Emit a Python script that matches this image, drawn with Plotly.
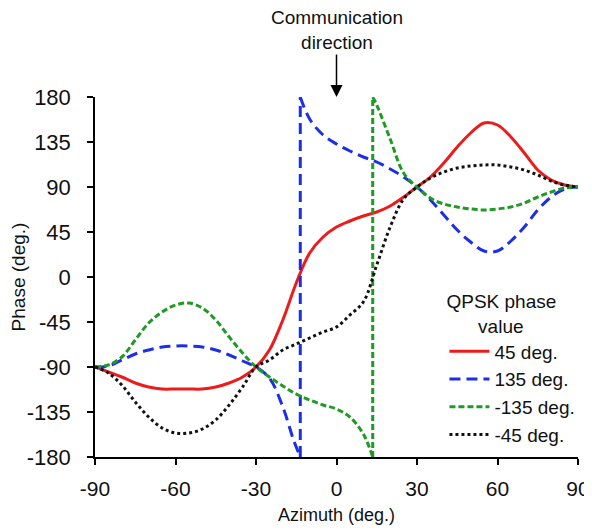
import plotly.graph_objects as go

# ---- data (azimuth in deg., phase in deg.) ----
az_45 = [-90, -85, -80, -75, -70, -65, -60, -55, -50, -45, -40, -35, -30, -25, -20, -15, -10, -5, 0, 5, 10, 15, 20, 25, 30,
         35, 40, 45, 50, 55, 60, 65, 70, 75, 80, 85, 90]
ph_45 = [-90, -95, -100, -106, -110, -112, -112, -112, -112, -110, -106, -100, -90, -73, -43, -6, 24, 40, 50, 56, 61, 65, 71, 80, 90,
         100, 114, 130, 144, 154, 152, 140, 124, 107, 97, 92, 90]

az_135 = [-90, -85, -80, -75, -70, -65, -60, -55, -50, -45, -40, -35, -30, -25, -20, -16, -13.5, -13.5, -10, -5, 0, 5, 10, 15, 20, 25, 30,
          35, 40, 45, 50, 55, 60, 65, 70, 75, 80, 85, 90]
ph_135 = [-90, -89, -83, -77, -73, -70, -69, -69, -70, -73, -78, -84, -90, -101, -130, -163, -180, 180, 158, 142, 133, 126, 120, 115, 108, 100, 90,
          77, 62, 47, 35, 26, 26, 36, 50, 67, 80, 88, 90]

az_m135 = [-90, -85, -80, -75, -70, -65, -60, -55, -50, -45, -40, -35, -30, -25, -20, -15, -10, -5, 0, 5, 10, 13.5, 13.5, 15, 20, 25, 30,
           35, 40, 45, 50, 55, 60, 65, 70, 75, 80, 85, 90]
ph_m135 = [-90, -88, -80, -63, -46, -35, -28, -26, -31, -43, -60, -76, -90, -100, -109, -117, -123, -128, -132, -140, -157, -180, 180, 172, 138, 104, 90,
           79, 73, 70, 68, 67, 68, 70, 74, 80, 85, 89, 90]

az_m45 = [-90, -85, -80, -75, -70, -65, -60, -55, -50, -45, -40, -35, -30, -25, -20, -15, -10, -5, 0, 5, 10, 15, 20, 25, 30,
          35, 40, 45, 50, 55, 60, 65, 70, 75, 80, 85, 90]
ph_m45 = [-90, -96, -108, -125, -140, -151, -156, -156, -152, -143, -128, -110, -90, -83, -73, -67, -61, -55, -50, -38, -25, 12, 50, 78, 90,
          99, 105, 109, 111, 112, 112, 110, 107, 102, 96, 92, 90]

series_names = ["45 deg.", "135 deg.", "-135 deg.", "-45 deg."]
x_ticks = [-90, -60, -30, 0, 30, 60, 90]
y_ticks = [-180, -135, -90, -45, 0, 45, 90, 135, 180]

FONT = "Liberation Sans, Arial, sans-serif"

styles = [
    dict(color="#ec1c1c", width=3),
    dict(color="#1c2ee8", width=3, dash="11px,6px"),
    dict(color="#1f9a24", width=3, dash="6px,3px"),
    dict(color="#111111", width=3, dash="dot"),
]
data = [(az_45, ph_45), (az_135, ph_135), (az_m135, ph_m135), (az_m45, ph_m45)]

fig = go.Figure()
for name, style, (xs, ys) in zip(series_names, styles, data):
    # split at the phase wrap (two consecutive points with the same azimuth)
    cut = None
    for i in range(len(xs) - 1):
        if xs[i] == xs[i + 1]:
            cut = i
    if cut is None:
        fig.add_trace(go.Scatter(x=xs, y=ys, mode="lines", name=name, legendgroup=name,
                                 line=dict(shape="spline", smoothing=1.0, **style)))
    else:
        fig.add_trace(go.Scatter(x=xs[:cut + 1], y=ys[:cut + 1], mode="lines", name=name, legendgroup=name,
                                 line=dict(shape="spline", smoothing=1.0, **style)))
        fig.add_trace(go.Scatter(x=xs[cut:cut + 2], y=ys[cut:cut + 2], mode="lines", name=name, legendgroup=name,
                                 showlegend=False, line=dict(shape="linear", **style)))
        fig.add_trace(go.Scatter(x=xs[cut + 1:], y=ys[cut + 1:], mode="lines", name=name, legendgroup=name,
                                 showlegend=False, line=dict(shape="spline", smoothing=1.0, **style)))

fig.update_layout(
    width=584, height=522,
    margin=dict(l=87, r=13, t=89, b=73),
    paper_bgcolor="white", plot_bgcolor="white",
    font=dict(family=FONT, size=19, color="#111111"),
    showlegend=True,
    legend=dict(
        x=0.722, y=0.483, xanchor="left", yanchor="top",
        bgcolor="rgba(0,0,0,0)",
        font=dict(size=19, family=FONT),
        title=dict(text="QPSK phase<br>" + "&nbsp;" * 6 + "value", side="top", font=dict(size=19, family=FONT)),
        itemwidth=40, tracegroupgap=0,
    ),
    xaxis=dict(
        range=[-90, 90], tickvals=x_ticks, ticktext=[str(v) for v in x_ticks],
        showgrid=False, zeroline=False, showline=True, linecolor="black", linewidth=1.5,
        ticks="outside", ticklen=6, tickwidth=1.5, tickcolor="black",
        tickfont=dict(size=21, family=FONT), automargin=False, ticklabelstandoff=6,
        title=dict(text="Azimuth (deg.)", font=dict(size=18, family=FONT), standoff=9),
    ),
    yaxis=dict(
        range=[-180, 180], tickvals=y_ticks, ticktext=[str(v) for v in y_ticks],
        showgrid=False, zeroline=False, showline=True, linecolor="black", linewidth=1.5,
        ticks="outside", ticklen=6, tickwidth=1.5, tickcolor="black",
        tickfont=dict(size=22, family=FONT), automargin=False, ticklabelstandoff=12,
        title=dict(text="Phase (deg.)", font=dict(size=19, family=FONT), standoff=2),
    ),
    annotations=[
        dict(x=0, xref="x", y=1.0, yref="paper", text="Communication<br>direction",
             showarrow=True, arrowhead=2, arrowsize=1.6, arrowwidth=1.5, arrowcolor="black",
             ax=0, ay=-67, font=dict(size=19, family=FONT, color="#111111")),
    ],
)

fig.write_html("out.html")
